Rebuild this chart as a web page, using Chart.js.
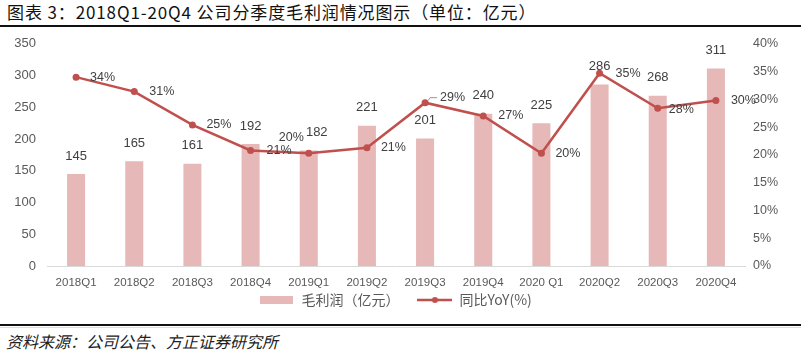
<!DOCTYPE html>
<html>
<head>
<meta charset="utf-8">
<script src="https://cdn.jsdelivr.net/npm/chart.js@4/dist/chart.umd.min.js"></script>
<style>
  html,body{margin:0;padding:0;background:#fff;}
  body{width:801px;height:356px;position:relative;overflow:hidden;font-family:"Noto Sans CJK SC","Liberation Sans",sans-serif;}
  #title{position:absolute;left:7px;top:1px;font-size:17px;line-height:22px;letter-spacing:0.88px;color:#111;white-space:nowrap;}
  #topline{position:absolute;left:0;top:25px;width:801px;height:2px;background:#111;}
  #botline{position:absolute;left:0;top:324px;width:801px;height:2px;background:#111;}
  #botline2{position:absolute;left:0;top:327px;width:801px;height:1px;background:#ddd;}
  #source{position:absolute;left:6px;top:330px;font-size:16px;line-height:22px;color:#222;font-style:italic;white-space:nowrap;}
  #wrap{position:absolute;left:0;top:25px;width:801px;height:292px;}
</style>
</head>
<body>
<div id="title">图表 3：2018Q1-20Q4 公司分季度毛利润情况图示（单位：亿元）</div>
<div id="topline"></div>
<div id="botline"></div>
<div id="botline2"></div>
<div id="source">资料来源：公司公告、方正证券研究所</div>
<div id="wrap"><canvas id="c"></canvas></div>
<script>
const categories = ['2018Q1','2018Q2','2018Q3','2018Q4','2019Q1','2019Q2','2019Q3','2019Q4','2020 Q1','2020Q2','2020Q3','2020Q4'];
const grossProfit = [145,165,161,192,182,221,201,240,225,286,268,311];
const yoyPct = [34.0,31.4,25.4,20.8,20.3,21.3,29.4,27.0,20.3,34.7,28.4,29.8];
const leftAxis = {min:0, max:350, step:50};
const rightAxis = {min:0, max:40, step:5};
const seriesNames = ['毛利润（亿元）','同比YoY(%)'];

const BAR_COLOR = '#E6B9B8';
const LINE_COLOR = '#C0504D';
const TEXT_COLOR = '#404040';
const TICK_COLOR = '#595959';

// legend swatches
const barSwatch = document.createElement('canvas');
barSwatch.width = 33; barSwatch.height = 8;
(function(){const g=barSwatch.getContext('2d');g.fillStyle=BAR_COLOR;g.fillRect(0,0,33,8);})();
const lineSwatch = document.createElement('canvas');
lineSwatch.width = 35; lineSwatch.height = 10;
(function(){const g=lineSwatch.getContext('2d');g.strokeStyle=LINE_COLOR;g.lineWidth=2.5;g.beginPath();g.moveTo(0,5);g.lineTo(35,5);g.stroke();g.fillStyle=LINE_COLOR;g.beginPath();g.arc(17.5,5,3,0,Math.PI*2);g.fill();})();

// label offset styling (not data)
const barLabelDx = {4: 8};
const lineLabelOff = {4:[-30,-16], 6:[15,-5], 10:[11,1], 3:[16,0], 9:[16,0], 1:[15,0], 7:[15,0], 11:[15,0]};

const labelPlugin = {
  id: 'valueLabels',
  afterDatasetsDraw(chart){
    const ctx = chart.ctx;
    ctx.save();
    ctx.fillStyle = TEXT_COLOR;
    const bm = chart.getDatasetMeta(0);
    ctx.font = '13px "Liberation Sans", Arial, sans-serif';
    ctx.textAlign = 'center';
    ctx.textBaseline = 'middle';
    bm.data.forEach((el,i)=>{
      const dx = barLabelDx[i] || 0;
      ctx.fillText(String(grossProfit[i]), el.x + dx, el.y - 18);
    });
    const lm = chart.getDatasetMeta(1);
    ctx.font = '12.5px "Liberation Sans", Arial, sans-serif';
    ctx.textAlign = 'left';
    lm.data.forEach((el,i)=>{
      const off = lineLabelOff[i] || [14,0];
      ctx.fillText(Math.round(yoyPct[i]) + '%', el.x + off[0], el.y + off[1]);
      if (i === 6) {
        ctx.strokeStyle = '#999';
        ctx.lineWidth = 1;
        ctx.beginPath();
        ctx.moveTo(el.x + 3, el.y - 2);
        ctx.lineTo(el.x + 5, el.y - 5);
        ctx.lineTo(el.x + 12, el.y - 5);
        ctx.stroke();
      }
    });
    ctx.restore();
  }
};

new Chart(document.getElementById('c'), {
  data: {
    labels: categories,
    datasets: [
      {
        type: 'bar',
        label: seriesNames[0],
        data: grossProfit,
        backgroundColor: BAR_COLOR,
        yAxisID: 'y',
        order: 1,
        barPercentage: 0.31,
        categoryPercentage: 1.0
      },
      {
        type: 'line',
        label: seriesNames[1],
        data: yoyPct,
        borderColor: LINE_COLOR,
        backgroundColor: LINE_COLOR,
        borderWidth: 2.5,
        pointRadius: 3.5,
        pointBackgroundColor: LINE_COLOR,
        pointBorderWidth: 0,
        tension: 0,
        yAxisID: 'y1',
        order: 0
      }
    ]
  },
  options: {
    responsive: true,
    maintainAspectRatio: false,
    animation: false,
    layout: { padding: { top: 0, bottom: 0, left: 0, right: 0 } },
    plugins: {
      tooltip: { enabled: false },
      legend: {
        position: 'bottom',
        labels: {
          usePointStyle: true,
          pointStyleWidth: 35,
          padding: 4,
          color: TICK_COLOR,
          font: { family: '"Noto Sans CJK SC", sans-serif', size: 14 },
          sort: (a,b) => a.datasetIndex - b.datasetIndex,
          generateLabels: (chart) => {
            const items = Chart.defaults.plugins.legend.labels.generateLabels(chart);
            items.forEach(it => {
              if (it.datasetIndex === 0) { it.pointStyle = barSwatch; it.text = it.text + '\u3000\u2002'; }
              else { it.pointStyle = lineSwatch; it.text = it.text + '\u2002\u2009'; }
            });
            return items;
          }
        }
      }
    },
    scales: {
      x: {
        grid: { display: false, drawTicks: false },
        border: { display: true, color: '#D9D9D9', width: 1 },
        ticks: { color: TICK_COLOR, font: { family: '"Liberation Sans", Arial, sans-serif', size: 11.5 }, padding: 10, maxRotation: 0, autoSkip: false },
        afterFit: s => { s.height = 23; }
      },
      y: {
        position: 'left',
        min: leftAxis.min, max: leftAxis.max,
        grid: { display: false, drawTicks: false },
        border: { display: false },
        ticks: { stepSize: leftAxis.step, color: TICK_COLOR, font: { family: '"Liberation Sans", Arial, sans-serif', size: 13 }, padding: 11 },
        afterFit: s => { s.width = 47; }
      },
      y1: {
        position: 'right',
        min: rightAxis.min, max: rightAxis.max,
        grid: { display: false, drawTicks: false },
        border: { display: false },
        ticks: { stepSize: rightAxis.step, color: TICK_COLOR, font: { family: '"Liberation Sans", Arial, sans-serif', size: 12.5 }, padding: 8, callback: v => v + '%' },
        afterFit: s => { s.width = 56; }
      }
    }
  },
  plugins: [labelPlugin]
});
</script>
</body>
</html>
